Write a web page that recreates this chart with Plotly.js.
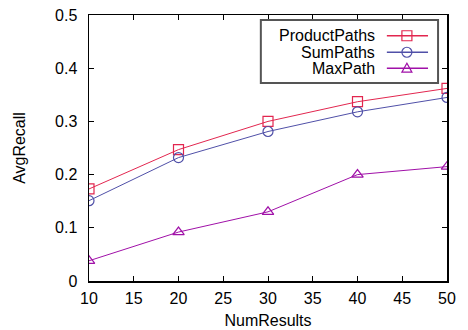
<!DOCTYPE html>
<html>
<head>
<meta charset="utf-8">
<script src="https://cdn.plot.ly/plotly-3.0.1.min.js"></script>
<style>html,body{margin:0;padding:0;background:#fff;}#chart{width:468px;height:330px;}</style>
</head>
<body>
<div id="chart"></div>
<script>
const numResults = [10, 20, 30, 40, 50];
const productPaths = [0.173, 0.247, 0.300, 0.337, 0.362];
const sumPaths = [0.151, 0.232, 0.281, 0.318, 0.345];
const maxPath = [0.038, 0.092, 0.130, 0.200, 0.215];
const seriesNames = ['ProductPaths', 'SumPaths', 'MaxPath'];
const xTicks = [10, 15, 20, 25, 30, 35, 40, 45, 50];
const yTicks = [0, 0.1, 0.2, 0.3, 0.4, 0.5];
const yTickText = ['0', '0.1', '0.2', '0.3', '0.4', '0.5'];

const colors = ['#e2264f', '#5050a8', '#a010a8'];
const symbols = ['square-open', 'circle-open', 'triangle-up-open'];
const seriesData = [productPaths, sumPaths, maxPath];

const traces = seriesData.map((ys, i) => ({
  x: numResults, y: ys, type: 'scatter', mode: 'lines+markers', name: seriesNames[i],
  line: {color: colors[i], width: 1},
  marker: {symbol: symbols[i], size: 10, color: colors[i], line: {color: colors[i], width: 1.2}},
  showlegend: false
}));

const font = {family: 'Liberation Sans, Arial, sans-serif', size: 16, color: '#000'};

// custom legend (text left, sample right), like gnuplot
const shapes = [{type: 'rect', xref: 'paper', yref: 'paper', x0: 0.48, x1: 0.975, y0: 0.744, y1: 0.981,
  line: {color: '#555', width: 2}, fillcolor: 'rgba(255,255,255,1)', layer: 'above'}];
const annotations = [];
const rowsY = [0.922, 0.86, 0.80];
rowsY.forEach((yy, i) => {
  annotations.push({xref: 'paper', yref: 'paper', x: 0.805, y: yy, xanchor: 'right', yanchor: 'middle',
    text: seriesNames[i], showarrow: false, font: font});
  shapes.push({type: 'line', xref: 'paper', yref: 'paper', x0: 0.832, x1: 0.947, y0: yy, y1: yy,
    line: {color: colors[i], width: 1.5}, layer: 'above'});
  const base = {xref: 'paper', yref: 'paper', xsizemode: 'pixel', ysizemode: 'pixel', xanchor: 0.888, yanchor: yy,
    line: {color: colors[i], width: 1.2}, fillcolor: 'rgba(0,0,0,0)', layer: 'above'};
  if (i === 0) shapes.push(Object.assign({type: 'rect', x0: -5, x1: 5, y0: -5, y1: 5}, base));
  if (i === 1) shapes.push(Object.assign({type: 'circle', x0: -5, x1: 5, y0: -5, y1: 5}, base));
  if (i === 2) shapes.push(Object.assign({type: 'path', path: 'M -5 -4 L 5 -4 L 0 5 Z'}, base));
});

const axisCommon = {showline: true, linecolor: '#000', linewidth: 1.5, mirror: 'allticks', ticks: 'inside',
  ticklen: 5, tickwidth: 1, tickcolor: '#000', showgrid: false, zeroline: false, tickfont: font};

const layout = {
  width: 468, height: 330,
  margin: {l: 89, r: 21, t: 15, b: 49},
  paper_bgcolor: '#fff', plot_bgcolor: '#fff',
  font: font,
  xaxis: Object.assign({}, axisCommon, {range: [10, 50], tickvals: xTicks, ticktext: xTicks.map(String),
    ticklabelstandoff: 2,
    title: {text: 'NumResults', font: font, standoff: 9}}),
  yaxis: Object.assign({}, axisCommon, {range: [0, 0.5], tickvals: yTicks, ticktext: yTickText,
    ticklabelstandoff: 7,
    title: {text: 'AvgRecall', font: font, standoff: 25}}),
  shapes: shapes, annotations: annotations, showlegend: false
};

Plotly.newPlot('chart', traces, layout, {displayModeBar: false, staticPlot: true});
</script>
</body>
</html>
